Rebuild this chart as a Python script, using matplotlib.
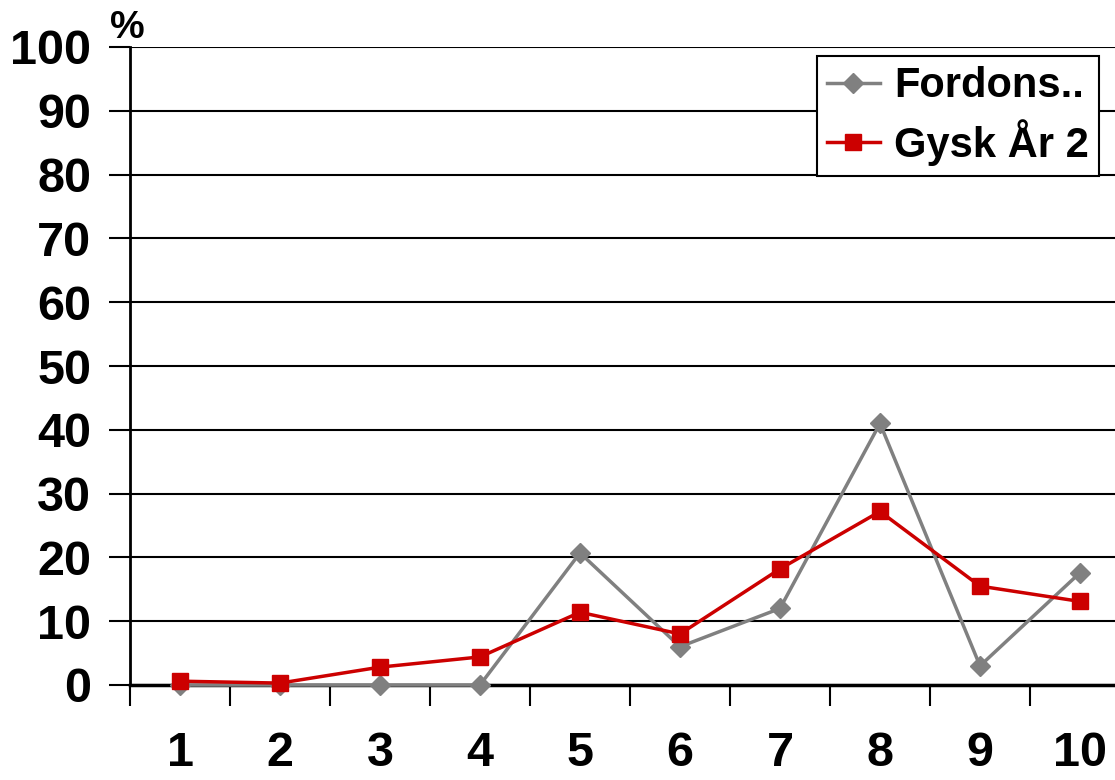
import matplotlib
matplotlib.use("Agg")
import matplotlib.pyplot as plt
import numpy as np

categories = ["1", "2", "3", "4", "5", "6", "7", "8", "9", "10"]
fordons    = [0, 0, 0, 0, 20.7, 6.0, 12.0, 41.0, 3.0, 17.6]
gysk       = [0.6, 0.3, 2.8, 4.4, 11.4, 8.0, 18.2, 27.2, 15.5, 13.1]
yticks     = [0, 10, 20, 30, 40, 50, 60, 70, 80, 90, 100]

plt.rcParams["font.family"] = ["Liberation Sans", "DejaVu Sans"]
plt.rcParams["font.weight"] = "bold"

W, H = 1115, 780
fig = plt.figure(figsize=(W / 100, H / 100), dpi=100)
ax = fig.add_axes([130 / W, 95 / H, 1000 / W, 638 / H])

x = np.arange(len(categories))
ax.plot(x, fordons, color="#808080", lw=2.5, marker="D", ms=10,
        label="Fordons..", clip_on=False, zorder=3)
ax.plot(x, gysk, color="#CC0000", lw=2.5, marker="s", ms=12,
        label="Gysk År 2", clip_on=False, zorder=4)

ax.set_xlim(-0.5, len(categories) - 0.5)
ax.set_ylim(0, 100)
ax.set_yticks(yticks)
ax.set_yticklabels([str(v) for v in yticks], fontsize=35, fontweight="bold")
ax.set_xticks(np.arange(len(categories) + 1) - 0.5)
ax.set_xticklabels([])
ax.set_xticks(x, minor=True)
ax.set_xticklabels(categories, minor=True, fontsize=35, fontweight="bold")
ax.tick_params(axis="x", which="minor", length=0, pad=33)
ax.tick_params(axis="x", which="major", length=15, width=1.5, direction="out")
ax.tick_params(axis="y", length=15, width=1.5, direction="out", pad=13)
ax.yaxis.grid(True, color="black", lw=1.5)
ax.set_axisbelow(True)
for s in ["top", "right"]:
    ax.spines[s].set_visible(False)
ax.spines["left"].set_linewidth(2)
ax.spines["bottom"].set_linewidth(2.5)

fig.text(110 / W, 1 - 38 / H, "%", fontsize=28, fontweight="bold")

leg = ax.legend(loc="upper left", bbox_to_anchor=(817 / W, 1 - 56 / H),
                bbox_transform=fig.transFigure, fontsize=30, frameon=True,
                fancybox=False, edgecolor="black", handlelength=1.25,
                borderpad=0.25, labelspacing=0.3, handletextpad=0.35,
                borderaxespad=0, framealpha=1)
leg.get_frame().set_linewidth(1.5)

fig.savefig("out.png", dpi=100)
